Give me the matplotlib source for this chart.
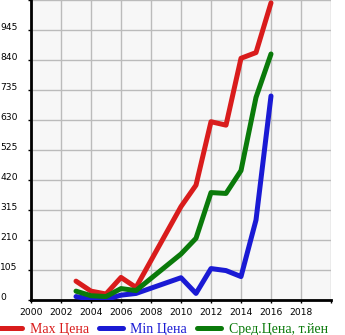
import matplotlib
matplotlib.use("Agg")
import matplotlib.pyplot as plt
import matplotlib.transforms as mtransforms
from matplotlib.lines import Line2D

years = [2003, 2004, 2005, 2006, 2007, 2010, 2011, 2012, 2013, 2014, 2015, 2016]
max_price = [66, 31, 21, 79, 44, 327, 402, 624, 612, 846, 866, 1040]
min_price = [12, 3, 2, 17, 23, 78, 23, 110, 103, 82, 280, 714]
avg_price = [31, 15, 12, 40, 33, 161, 216, 376, 373, 453, 709, 861]

x_ticks = list(range(2000, 2021, 2))
x_labels = [str(v) for v in range(2000, 2019, 2)] + [""]
y_ticks = [0, 105, 210, 315, 420, 525, 630, 735, 840, 945, 1050]
y_labels = ["0", "105", "210", "315", "420", "525", "630", "735", "840", "945", ""]

series_names = ["Max Цена", "Min Цена", "Сред.Цена, т.йен"]
colors = ["#d91c1c", "#1a1ad4", "#0a7a0a"]

W, H = 345, 335
fig = plt.figure(figsize=(W / 100, H / 100), dpi=100)
ax = fig.add_axes([31 / W, 35 / H, 300 / W, 300 / H])
ax.set_facecolor("#f7f7f7")

for vals, c in zip([max_price, min_price, avg_price], colors):
    ax.plot(years, vals, color=c, lw=3.6, solid_capstyle="round",
            solid_joinstyle="round", zorder=3)

ax.set_xlim(2000, 2020)
ax.set_ylim(0, 1050)
ax.set_xticks(x_ticks)
ax.set_xticklabels(x_labels, fontsize=6.6, family="DejaVu Sans")
ax.set_yticks(y_ticks)
ax.set_yticklabels(y_labels, fontsize=6.6, family="DejaVu Sans")
ax.grid(True, color="#bbbbbb", lw=1.0, zorder=0)
ax.set_axisbelow(True)

for s in ["top", "right"]:
    ax.spines[s].set_visible(False)
ax.spines["left"].set_linewidth(2)
ax.spines["bottom"].set_linewidth(2)

ax.tick_params(axis="x", length=2.5, width=1, pad=3, color="black")
ax.tick_params(axis="y", length=2.5, width=1, pad=19.8, color="black")
for lab in ax.get_yticklabels():
    lab.set_horizontalalignment("left")
    lab.set_transform(lab.get_transform() +
                      mtransforms.ScaledTranslation(0, 3 / 100, fig.dpi_scale_trans))

# legend
handles = [Line2D([], [], color=c, lw=3.6, solid_capstyle="round") for c in colors]
leg = fig.legend(handles, series_names, loc="center left", bbox_to_anchor=(-0.005, 5.5 / H),
                 ncol=3, frameon=False, handlelength=1.7, handletextpad=0.55,
                 columnspacing=0.75, labelcolor="linecolor", borderpad=0, borderaxespad=0,
                 prop={"family": "Liberation Serif", "size": 10})

fig.savefig("out.png", dpi=100)
